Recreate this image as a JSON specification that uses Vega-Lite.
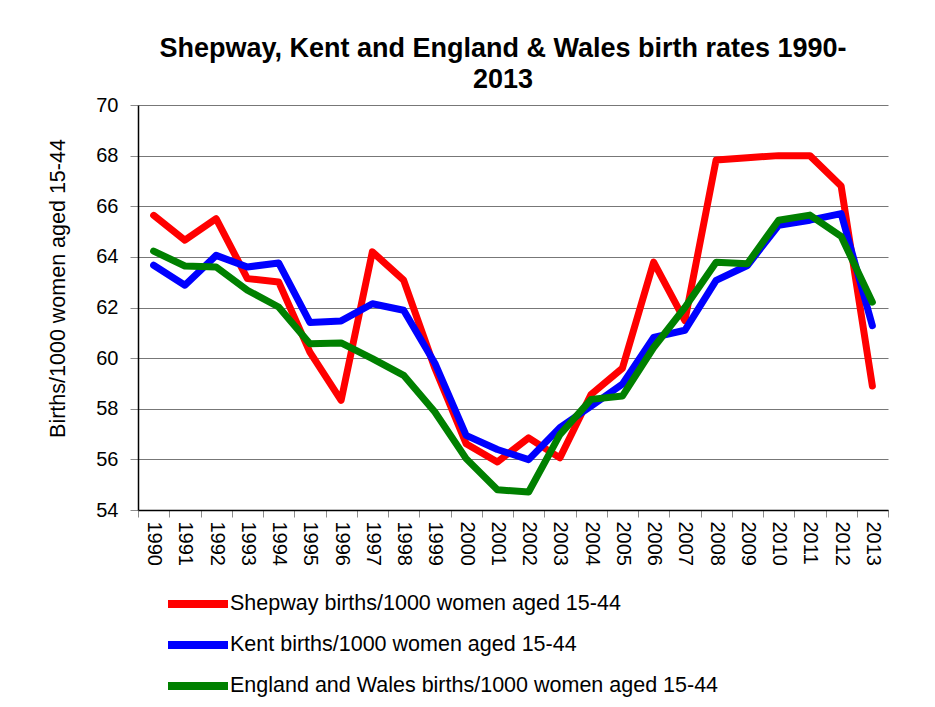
{
  "$schema": "https://vega.github.io/schema/vega-lite/v6.json",
  "width": 750,
  "height": 405,
  "autosize": {"type": "none"},
  "padding": {"left": 138, "top": 105, "right": 47, "bottom": 197},
  "background": "white",
  "config": {
    "font": "Liberation Sans",
    "view": {"stroke": null}
  },
  "title": {
    "text": ["Shepway, Kent and England & Wales birth rates 1990-", "2013"],
    "font": "Liberation Sans",
    "fontSize": 27,
    "fontWeight": "bold",
    "color": "black",
    "anchor": "middle",
    "dx": -10,
    "lineHeight": 31,
    "offset": 1
  },
  "data": {
    "values": [
      {"year": "1990", "series": "Shepway births/1000 women aged 15-44", "value": 65.64},
      {"year": "1991", "series": "Shepway births/1000 women aged 15-44", "value": 64.66},
      {"year": "1992", "series": "Shepway births/1000 women aged 15-44", "value": 65.51},
      {"year": "1993", "series": "Shepway births/1000 women aged 15-44", "value": 63.14},
      {"year": "1994", "series": "Shepway births/1000 women aged 15-44", "value": 63.01},
      {"year": "1995", "series": "Shepway births/1000 women aged 15-44", "value": 60.24},
      {"year": "1996", "series": "Shepway births/1000 women aged 15-44", "value": 58.33},
      {"year": "1997", "series": "Shepway births/1000 women aged 15-44", "value": 64.2},
      {"year": "1998", "series": "Shepway births/1000 women aged 15-44", "value": 63.08},
      {"year": "1999", "series": "Shepway births/1000 women aged 15-44", "value": 59.6},
      {"year": "2000", "series": "Shepway births/1000 women aged 15-44", "value": 56.62},
      {"year": "2001", "series": "Shepway births/1000 women aged 15-44", "value": 55.9},
      {"year": "2002", "series": "Shepway births/1000 women aged 15-44", "value": 56.85},
      {"year": "2003", "series": "Shepway births/1000 women aged 15-44", "value": 56.06},
      {"year": "2004", "series": "Shepway births/1000 women aged 15-44", "value": 58.57},
      {"year": "2005", "series": "Shepway births/1000 women aged 15-44", "value": 59.6},
      {"year": "2006", "series": "Shepway births/1000 women aged 15-44", "value": 63.79},
      {"year": "2007", "series": "Shepway births/1000 women aged 15-44", "value": 61.48},
      {"year": "2008", "series": "Shepway births/1000 women aged 15-44", "value": 67.83},
      {"year": "2009", "series": "Shepway births/1000 women aged 15-44", "value": 67.92},
      {"year": "2010", "series": "Shepway births/1000 women aged 15-44", "value": 68.0},
      {"year": "2011", "series": "Shepway births/1000 women aged 15-44", "value": 68.0},
      {"year": "2012", "series": "Shepway births/1000 women aged 15-44", "value": 66.8},
      {"year": "2013", "series": "Shepway births/1000 women aged 15-44", "value": 58.9},
      {"year": "1990", "series": "Kent births/1000 women aged 15-44", "value": 63.67},
      {"year": "1991", "series": "Kent births/1000 women aged 15-44", "value": 62.88},
      {"year": "1992", "series": "Kent births/1000 women aged 15-44", "value": 64.06},
      {"year": "1993", "series": "Kent births/1000 women aged 15-44", "value": 63.6},
      {"year": "1994", "series": "Kent births/1000 women aged 15-44", "value": 63.76},
      {"year": "1995", "series": "Kent births/1000 women aged 15-44", "value": 61.41},
      {"year": "1996", "series": "Kent births/1000 women aged 15-44", "value": 61.47},
      {"year": "1997", "series": "Kent births/1000 women aged 15-44", "value": 62.15},
      {"year": "1998", "series": "Kent births/1000 women aged 15-44", "value": 61.89},
      {"year": "1999", "series": "Kent births/1000 women aged 15-44", "value": 59.8},
      {"year": "2000", "series": "Kent births/1000 women aged 15-44", "value": 56.95},
      {"year": "2001", "series": "Kent births/1000 women aged 15-44", "value": 56.39},
      {"year": "2002", "series": "Kent births/1000 women aged 15-44", "value": 55.99},
      {"year": "2003", "series": "Kent births/1000 women aged 15-44", "value": 57.25},
      {"year": "2004", "series": "Kent births/1000 women aged 15-44", "value": 58.1},
      {"year": "2005", "series": "Kent births/1000 women aged 15-44", "value": 58.97},
      {"year": "2006", "series": "Kent births/1000 women aged 15-44", "value": 60.82},
      {"year": "2007", "series": "Kent births/1000 women aged 15-44", "value": 61.1},
      {"year": "2008", "series": "Kent births/1000 women aged 15-44", "value": 63.07},
      {"year": "2009", "series": "Kent births/1000 women aged 15-44", "value": 63.66},
      {"year": "2010", "series": "Kent births/1000 women aged 15-44", "value": 65.25},
      {"year": "2011", "series": "Kent births/1000 women aged 15-44", "value": 65.45},
      {"year": "2012", "series": "Kent births/1000 women aged 15-44", "value": 65.71},
      {"year": "2013", "series": "Kent births/1000 women aged 15-44", "value": 61.28},
      {"year": "1990", "series": "England and Wales births/1000 women aged 15-44", "value": 64.23},
      {"year": "1991", "series": "England and Wales births/1000 women aged 15-44", "value": 63.64},
      {"year": "1992", "series": "England and Wales births/1000 women aged 15-44", "value": 63.6},
      {"year": "1993", "series": "England and Wales births/1000 women aged 15-44", "value": 62.68},
      {"year": "1994", "series": "England and Wales births/1000 women aged 15-44", "value": 62.02},
      {"year": "1995", "series": "England and Wales births/1000 women aged 15-44", "value": 60.57},
      {"year": "1996", "series": "England and Wales births/1000 women aged 15-44", "value": 60.6},
      {"year": "1997", "series": "England and Wales births/1000 women aged 15-44", "value": 59.98},
      {"year": "1998", "series": "England and Wales births/1000 women aged 15-44", "value": 59.32},
      {"year": "1999", "series": "England and Wales births/1000 women aged 15-44", "value": 57.87},
      {"year": "2000", "series": "England and Wales births/1000 women aged 15-44", "value": 56.03},
      {"year": "2001", "series": "England and Wales births/1000 women aged 15-44", "value": 54.8},
      {"year": "2002", "series": "England and Wales births/1000 women aged 15-44", "value": 54.71},
      {"year": "2003", "series": "England and Wales births/1000 women aged 15-44", "value": 56.98},
      {"year": "2004", "series": "England and Wales births/1000 women aged 15-44", "value": 58.37},
      {"year": "2005", "series": "England and Wales births/1000 women aged 15-44", "value": 58.5},
      {"year": "2006", "series": "England and Wales births/1000 women aged 15-44", "value": 60.42},
      {"year": "2007", "series": "England and Wales births/1000 women aged 15-44", "value": 62.0},
      {"year": "2008", "series": "England and Wales births/1000 women aged 15-44", "value": 63.79},
      {"year": "2009", "series": "England and Wales births/1000 women aged 15-44", "value": 63.73},
      {"year": "2010", "series": "England and Wales births/1000 women aged 15-44", "value": 65.45},
      {"year": "2011", "series": "England and Wales births/1000 women aged 15-44", "value": 65.65},
      {"year": "2012", "series": "England and Wales births/1000 women aged 15-44", "value": 64.81},
      {"year": "2013", "series": "England and Wales births/1000 women aged 15-44", "value": 62.21}
    ]
  },
  "mark": {"type": "line", "strokeWidth": 7, "strokeCap": "round", "strokeJoin": "round"},
  "encoding": {
    "x": {
      "field": "year",
      "type": "ordinal",
      "bandPosition": 0.5,
      "scale": {"type": "band", "paddingInner": 0, "paddingOuter": 0},
      "axis": {
        "title": null,
        "labelAngle": 90,
        "labelAlign": "left",
        "labelBaseline": "middle",
        "labelFont": "Liberation Sans",
        "labelFontSize": 20,
        "labelColor": "black",
        "labelPadding": 4,
        "tickBand": "extent",
        "tickSize": 7,
        "tickColor": "#8c8c8c",
        "domainColor": "black",
        "domainWidth": 1.5,
        "grid": false
      }
    },
    "y": {
      "field": "value",
      "type": "quantitative",
      "scale": {"domain": [54, 70], "nice": false, "zero": false},
      "axis": {
        "values": [54, 56, 58, 60, 62, 64, 66, 68, 70],
        "title": "Births/1000 women aged 15-44",
        "titleFont": "Liberation Sans",
        "titleFontSize": 21.5,
        "titleFontWeight": "normal",
        "titleColor": "black",
        "titleAngle": -90,
        "titleAlign": "center",
        "titleBaseline": "middle",
        "titleX": -80,
        "titleY": 183,
        "labelFont": "Liberation Sans",
        "labelFontSize": 20,
        "labelColor": "black",
        "labelPadding": 12,
        "tickSize": 8,
        "tickColor": "#8c8c8c",
        "domainColor": "black",
        "domainWidth": 1.5,
        "grid": true,
        "gridColor": "#777777",
        "gridWidth": 1
      }
    },
    "color": {
      "field": "series",
      "type": "nominal",
      "sort": null,
      "scale": {
        "domain": [
          "Shepway births/1000 women aged 15-44",
          "Kent births/1000 women aged 15-44",
          "England and Wales births/1000 women aged 15-44"
        ],
        "range": ["#ff0000", "#0000ff", "#008000"]
      },
      "legend": {
        "title": null,
        "orient": "none",
        "legendX": 41,
        "legendY": 480,
        "direction": "vertical",
        "padding": 0,
        "symbolType": "M-2,0H2",
        "symbolSize": 900,
        "symbolStrokeWidth": 8,
        "symbolFillColor": "transparent",
        "labelFont": "Liberation Sans",
        "labelFontSize": 21.5,
        "labelColor": "black",
        "labelOffset": 13,
        "labelLimit": 700,
        "rowPadding": 6
      }
    }
  }
}
